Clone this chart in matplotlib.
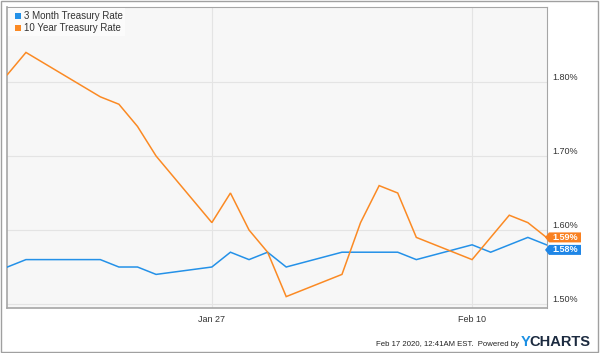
import matplotlib
matplotlib.use("Agg")
import matplotlib.pyplot as plt
import matplotlib.dates as mdates
import matplotlib.patches as mpatches
import numpy as np
import pandas as pd

plt.rcParams['font.family'] = ['Liberation Sans', 'DejaVu Sans']

dates = pd.to_datetime([
    "2020-01-16", "2020-01-17", "2020-01-21", "2020-01-22", "2020-01-23", "2020-01-24",
    "2020-01-27", "2020-01-28", "2020-01-29", "2020-01-30", "2020-01-31",
    "2020-02-03", "2020-02-04", "2020-02-05", "2020-02-06", "2020-02-07",
    "2020-02-10", "2020-02-11", "2020-02-12", "2020-02-13", "2020-02-14",
])
rate_3m = [1.55, 1.56, 1.56, 1.55, 1.55, 1.54,
           1.55, 1.57, 1.56, 1.57, 1.55,
           1.57, 1.57, 1.57, 1.57, 1.56,
           1.58, 1.57, 1.58, 1.59, 1.58]
rate_10y = [1.81, 1.84, 1.78, 1.77, 1.74, 1.70,
            1.61, 1.65, 1.60, 1.57, 1.51,
            1.54, 1.61, 1.66, 1.65, 1.59,
            1.56, 1.59, 1.62, 1.61, 1.59]
series_names = ["3 Month Treasury Rate", "10 Year Treasury Rate"]
ytick_vals = [1.50, 1.60, 1.70, 1.80]
xtick_dates = pd.to_datetime(["2020-01-27", "2020-02-10"])
xtick_labels = ["Jan 27", "Feb 10"]

BLUE = "#2491e8"
ORANGE = "#fb8a24"
FLAG_BLUE = "#1f86e6"
FLAG_ORANGE = "#f98020"

W, H = 600, 353
fig = plt.figure(figsize=(W / 100, H / 100), dpi=100)
fig.patch.set_facecolor("white")

def px(x0, y0, x1, y1):
    return [x0 / W, 1 - y1 / H, (x1 - x0) / W, (y1 - y0) / H]

ax = fig.add_axes(px(7, 7, 547, 308))
ax.set_facecolor("#f7f7f7")

xnum = mdates.date2num(dates)
ax.plot(xnum, rate_3m, color=BLUE, lw=1.1, zorder=3, solid_joinstyle='miter')
ax.plot(xnum, rate_10y, color=ORANGE, lw=1.1, zorder=3, solid_joinstyle='miter')

ax.set_xlim(xnum[0] - 0.02, xnum[-1] + 0.03)
ax.set_ylim(1.4946, 1.9014)

ax.set_yticks(ytick_vals)
ax.set_yticklabels([f"{v:.2f}%" for v in ytick_vals])
ax.yaxis.tick_right()
ax.tick_params(axis='y', length=0, pad=4, labelsize=6.5, labelcolor="#333333")
for lbl in ax.get_yticklabels():
    lbl.set_va('bottom')

ax.set_xticks(mdates.date2num(xtick_dates))
ax.set_xticklabels(xtick_labels)
ax.tick_params(axis='x', length=0, pad=5, labelsize=6.5, labelcolor="#333333")

ax.grid(True, color="#e4e4e4", lw=0.8, zorder=0)
ax.set_axisbelow(True)
for s in ax.spines.values():
    s.set_color("#a6a6a6")
    s.set_linewidth(0.8)
ax.spines['bottom'].set_linewidth(1.2)
ax.spines['left'].set_linewidth(1.2)

# Legend (manual)
fig.patches.append(mpatches.Rectangle((8 / W, 1 - 36 / H), 117 / W, 28 / H,
                                      transform=fig.transFigure, fc="#fbfbfb", ec="none", zorder=5))
for i, (name, col) in enumerate(zip(series_names, [BLUE, ORANGE])):
    yc = 15.8 + i * 12
    fig.patches.append(mpatches.Rectangle((15 / W, 1 - (yc + 2.8) / H), 5.6 / W, 5.6 / H,
                                          transform=fig.transFigure, fc=col, ec="none", zorder=6))
    fig.text(24 / W, 1 - yc / H, name, fontsize=7, color="#333333", va='center', ha='left', zorder=7)

# Value flags at right
def flag(yc_px, text, color):
    x0, x1 = 549, 581
    h = 10
    verts = [(545, yc_px), (x0, yc_px - h / 2), (x1, yc_px - h / 2), (x1, yc_px + h / 2), (x0, yc_px + h / 2)]
    verts = [(vx / W, 1 - vy / H) for vx, vy in verts]
    fig.patches.append(mpatches.Polygon(verts, closed=True, transform=fig.transFigure,
                                        fc=color, ec="none", zorder=8))
    fig.text((x0 + x1) / 2 / W + 0.5 / W, 1 - yc_px / H, text, fontsize=6.5, color="white",
             fontweight='bold', ha='center', va='center', zorder=9)

def ypix(v):
    return H - ax.transData.transform((xnum[-1], v))[1]

yo = ypix(rate_10y[-1])
yb = ypix(rate_3m[-1])
if yb - yo < 12.5:
    yb = yo + 12.5
flag(yo, f"{rate_10y[-1]:.2f}%", FLAG_ORANGE)
flag(yb, f"{rate_3m[-1]:.2f}%", FLAG_BLUE)

# Footer
fig.text(519 / W, 1 - 344.5 / H, "Feb 17 2020, 12:41AM EST.  Powered by", fontsize=5.6,
         color="#222222", ha='right', va='center')
fig.text(521 / W, 1 - 342 / H, "Y", fontsize=10.5, fontweight='bold', color="#1a8fe3",
         ha='left', va='center')
fig.text(529.5 / W, 1 - 342 / H, "CHARTS", fontsize=10.5, fontweight='bold', color="#1c2b40",
         ha='left', va='center')

# Outer border
fig.patches.append(mpatches.Rectangle((1 / W, 1 / H), 597 / W, 351 / H, transform=fig.transFigure,
                                      fc="none", ec="#a0a0a0", lw=1.0, zorder=10))

fig.savefig("out.png", dpi=100)
